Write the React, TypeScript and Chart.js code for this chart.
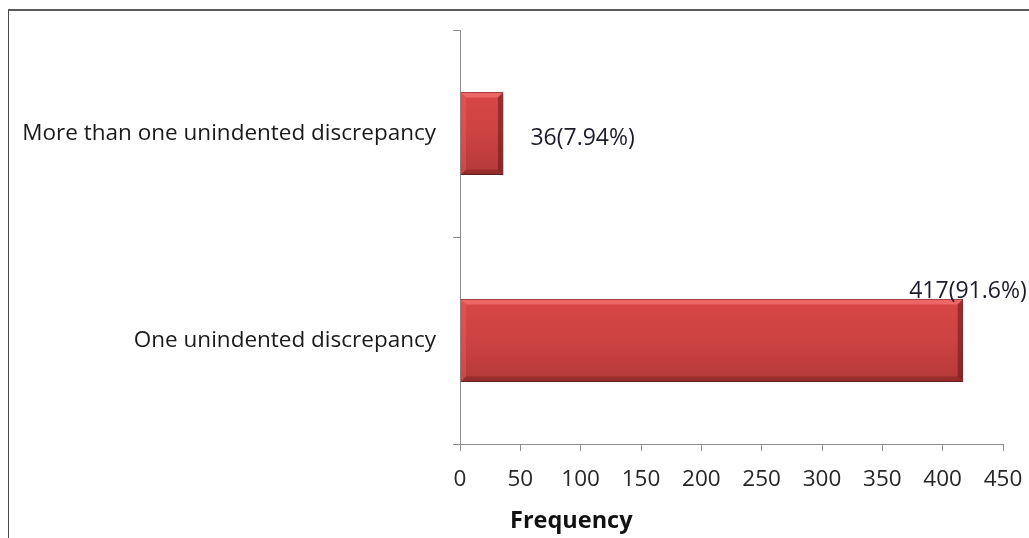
import React, { useEffect, useRef } from "react";
import { Chart, registerables } from "chart.js";

Chart.register(...registerables);

const categories = ["More than one unindented discrepancy", "One unindented discrepancy"];
const frequencies = [36, 417];
const valueLabels = ["36(7.94%)", "417(91.6%)"];
const xTickMin = 0;
const xTickMax = 450;
const xTickStep = 50;
const xTitle = "Frequency";

const FONT = "'Open Sans', 'Liberation Sans', sans-serif";

export default function App() {
  const ref = useRef<HTMLCanvasElement | null>(null);

  useEffect(() => {
    const canvas = ref.current;
    if (!canvas) return;

    const shadowPlugin = {
      id: "barShadow",
      beforeDatasetDraw(chart: any) {
        const ctx = chart.ctx;
        ctx.save();
        ctx.shadowColor = "rgba(0,0,0,0.35)";
        ctx.shadowBlur = 4;
        ctx.shadowOffsetX = 2;
        ctx.shadowOffsetY = 2;
      },
      afterDatasetDraw(chart: any) {
        chart.ctx.restore();
      },
    };

    const bevelPlugin = {
      id: "barBevel",
      afterDatasetDraw(chart: any) {
        const ctx = chart.ctx;
        const meta = chart.getDatasetMeta(0);
        const b = 5;
        ctx.save();
        meta.data.forEach((bar: any) => {
          const p = bar.getProps(["x", "y", "base", "height"], true);
          const l = p.base + 0.5;
          const r = p.x - 0.5;
          const t = p.y - p.height / 2 + 0.5;
          const bo = p.y + p.height / 2 - 0.5;
          const poly = (pts: number[][], color: string) => {
            ctx.beginPath();
            ctx.moveTo(pts[0][0], pts[0][1]);
            for (let k = 1; k < pts.length; k++) ctx.lineTo(pts[k][0], pts[k][1]);
            ctx.closePath();
            ctx.fillStyle = color;
            ctx.fill();
          };
          poly([[l, t], [r, t], [r - b, t + b], [l + b, t + b]], "rgba(255,130,130,0.55)");
          poly([[l, t], [l + b, t + b], [l + b, bo - b], [l, bo]], "rgba(255,120,120,0.25)");
          poly([[r, t], [r, bo], [r - b, bo - b], [r - b, t + b]], "rgba(80,15,15,0.45)");
          poly([[l, bo], [l + b, bo - b], [r - b, bo - b], [r, bo]], "rgba(80,15,15,0.3)");
        });
        ctx.restore();
      },
    };

    const labelPlugin = {
      id: "valueLabels",
      afterDatasetsDraw(chart: any) {
        const ctx = chart.ctx;
        const meta = chart.getDatasetMeta(0);
        ctx.save();
        ctx.font = `23px ${FONT}`;
        ctx.fillStyle = "#1b1b2b";
        meta.data.forEach((bar: any, i: number) => {
          const p = bar.getProps(["x", "y", "height"], true);
          if (i === 0) {
            ctx.textAlign = "left";
            ctx.textBaseline = "middle";
            ctx.fillText(valueLabels[i], p.x + 27, p.y + 5);
          } else {
            ctx.textAlign = "left";
            ctx.textBaseline = "alphabetic";
            ctx.fillText(valueLabels[i], p.x - 54, p.y - p.height / 2 - 1);
          }
        });
        const xs = chart.scales.x;
        ctx.font = `bold 23.5px ${FONT}`;
        ctx.fillStyle = "#111";
        ctx.textAlign = "left";
        ctx.textBaseline = "middle";
        ctx.fillText(xTitle, xs.left + 50, xs.bottom - 17);
        ctx.restore();
      },
    };

    const barFill = (c: any) => {
      const chart = c.chart;
      const area = chart.chartArea;
      if (!area || c.dataIndex === undefined) return "#cc4040";
      const ys = chart.scales.y;
      const yc = ys.getPixelForValue(c.dataIndex);
      const h = (0.4 * (area.bottom - area.top)) / categories.length;
      const g = chart.ctx.createLinearGradient(0, yc - h / 2, 0, yc + h / 2);
      g.addColorStop(0, "#d84747");
      g.addColorStop(0.5, "#cd4242");
      g.addColorStop(1, "#b43939");
      return g;
    };

    const chart = new Chart(canvas, {
      type: "bar",
      data: {
        labels: categories,
        datasets: [
          {
            data: frequencies,
            backgroundColor: barFill,
            borderColor: "#8a2b2b",
            borderWidth: 1,
            barPercentage: 0.4,
            categoryPercentage: 1,
          },
        ],
      },
      options: {
        indexAxis: "y",
        animation: false,
        responsive: false,
        layout: { padding: { top: 19, right: 26, left: 0, bottom: 0 } },
        plugins: { legend: { display: false }, tooltip: { enabled: false } },
        scales: {
          x: {
            min: xTickMin,
            max: xTickMax,
            ticks: {
              stepSize: xTickStep,
              color: "#262626",
              font: { family: FONT, size: 22.5 },
              padding: 15,
              maxRotation: 0,
            },
            grid: { drawOnChartArea: false, tickLength: 7, color: "#8c8c8c" },
            border: { color: "#8c8c8c" },
            afterFit(s: any) {
              s.height = 94;
              s.paddingLeft = 0;
              s.paddingRight = 0;
            },
          },
          y: {
            ticks: {
              color: "#1a1a1a",
              font: { family: FONT, size: 22.5 },
              padding: 17,
            },
            grid: { drawOnChartArea: false, tickLength: 7, color: "#8c8c8c" },
            border: { color: "#8c8c8c" },
            afterFit(s: any) {
              s.width = 451;
              s.paddingTop = 0;
              s.paddingBottom = 0;
            },
          },
        },
      },
      plugins: [shadowPlugin, bevelPlugin, labelPlugin],
    });
    return () => chart.destroy();
  }, []);

  return (
    <div
      style={{
        position: "fixed",
        left: 8,
        top: 8,
        width: 1021,
        height: 530,
        overflow: "hidden",
        paddingTop: 1,
        boxSizing: "border-box",
      }}
    >
      <div
        style={{
          width: 1060,
          height: 560,
          borderTop: "2px solid #5a5a5a",
          borderLeft: "1px solid #4a4a4a",
          boxSizing: "border-box",
          position: "relative",
        }}
      >
        <canvas ref={ref} width={1020} height={527} style={{ position: "absolute", left: 0, top: 0, width: 1020, height: 527 }} />
      </div>
    </div>
  );
}
